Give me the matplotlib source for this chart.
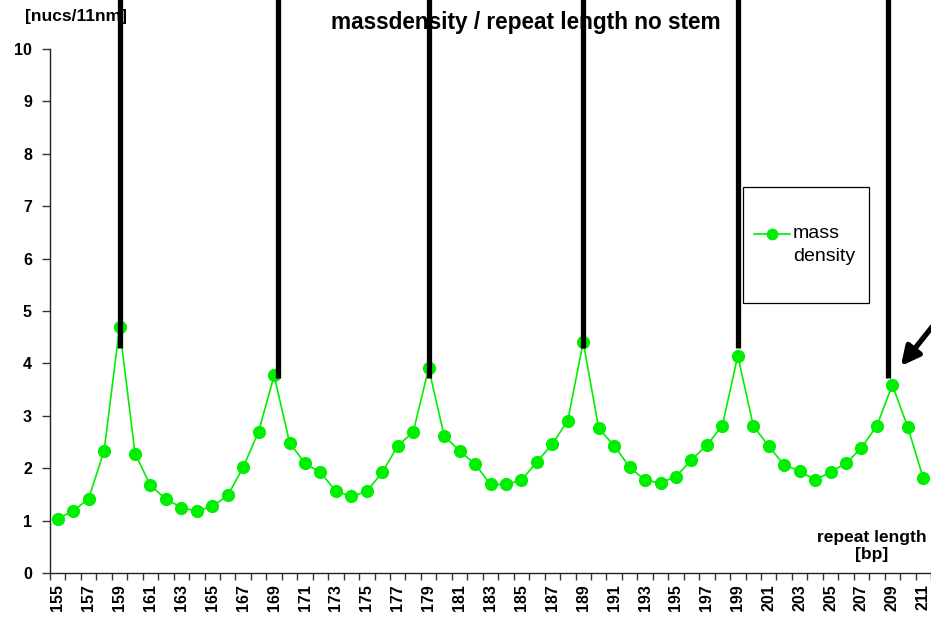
import numpy as np
import matplotlib
matplotlib.use("Agg")
import matplotlib.pyplot as plt
from matplotlib.patches import Rectangle
from matplotlib.lines import Line2D

plt.rcParams['font.family'] = ['Liberation Sans', 'DejaVu Sans']

# repeat length [bp] and mass density [nucs/11nm]
repeat_length = list(range(155, 212))
mass_density = [1.04, 1.18, 1.42, 2.33, 4.69, 2.28, 1.67, 1.41, 1.25, 1.18,
                1.27, 1.48, 2.02, 2.70, 3.77, 2.49, 2.09, 1.92, 1.56, 1.46,
                1.56, 1.92, 2.43, 2.69, 3.91, 2.62, 2.33, 2.08, 1.69, 1.69,
                1.77, 2.12, 2.46, 2.91, 4.41, 2.76, 2.43, 2.02, 1.77, 1.72,
                1.84, 2.16, 2.44, 2.81, 4.15, 2.81, 2.42, 2.06, 1.95, 1.77,
                1.93, 2.09, 2.39, 2.81, 3.59, 2.78, 1.81]

# 10 bp marker bars, hanging from the top down to these levels
bar_x = [159, 169.25, 179, 189, 199, 208.7]
bar_bottom = [4.29, 3.72, 3.72, 4.29, 4.29, 3.72]

series_label = 'mass density'

fig = plt.figure(figsize=(9.31, 6.21), dpi=100)
ax = fig.add_axes([50 / 931, 1 - 573 / 621, 881 / 931, 524 / 621])

green = '#00ee00'
ax.plot(repeat_length, mass_density, color=green, lw=1.2, marker='o',
        markersize=9.5, markeredgewidth=0, zorder=3)

ax.vlines(bar_x, bar_bottom, 11.5, colors='black', lw=3.8, zorder=5,
          clip_on=False)

ax.set_xlim(repeat_length[0] - 0.5, repeat_length[-1] + 0.5)
ax.set_ylim(0, 10)

# category boundaries carry the tick marks, labels sit at every second category
ax.set_xticks(np.arange(repeat_length[0] - 0.5, repeat_length[-1] + 1, 1))
ax.set_xticklabels([])
ax.set_xticks(repeat_length[::2], minor=True)
ax.set_xticklabels([str(v) for v in repeat_length[::2]], minor=True,
                   rotation=90, fontsize=11.5, fontweight='bold')
ax.tick_params(axis='x', which='major', direction='out', length=5, width=1,
               color='#333333')
ax.tick_params(axis='x', which='minor', length=0, pad=8)

ax.set_yticks(range(0, 11))
ax.set_yticklabels([str(v) for v in range(0, 11)], fontsize=11.5,
                   fontweight='bold')
ax.tick_params(axis='y', direction='out', length=6, width=1, pad=7,
               color='#333333')

for side in ('top', 'right'):
    ax.spines[side].set_visible(False)
for side in ('left', 'bottom'):
    ax.spines[side].set_linewidth(1)
    ax.spines[side].set_color('#222222')

# arrow pointing at the 209 bp peak
ax.annotate('', xy=(209.55, 3.95), xytext=(212.8, 5.15),
            arrowprops=dict(arrowstyle='-|>', lw=3.8, color='black',
                            mutation_scale=28, shrinkA=0, shrinkB=0),
            annotation_clip=False)

# legend box with its sample line and two-line label
tf = fig.transFigure
fig.patches.append(Rectangle((743 / 931, 1 - 303 / 621), 126 / 931, 116 / 621,
                             transform=tf, fill=False, lw=0.9, ec='black',
                             zorder=6))
fig.lines.append(Line2D([754 / 931, 790 / 931], [1 - 233.5 / 621] * 2,
                        transform=tf, color=green, lw=1.2))
fig.lines.append(Line2D([772 / 931], [1 - 233.5 / 621], transform=tf,
                        color=green, marker='o', markersize=8.5,
                        markeredgewidth=0))
first, second = series_label.split(' ')
fig.text(793 / 931, 1 - 233 / 621, first, ha='left', va='center',
         fontsize=14)
fig.text(793 / 931, 1 - 256 / 621, second, ha='left', va='center',
         fontsize=14)

fig.text(526 / 931, 1 - 22 / 621, 'massdensity / repeat length no stem',
         ha='center', va='center', fontsize=16.3, fontweight='bold')
fig.text(25 / 931, 1 - 17 / 621, '[nucs/11nm]', ha='left', va='center',
         fontsize=12.5, fontweight='bold')
fig.text(872 / 931, 1 - 546 / 621, 'repeat length\n[bp]', ha='center',
         va='center', fontsize=12.5, fontweight='bold', linespacing=1.2)

fig.savefig('out.png', dpi=100)
